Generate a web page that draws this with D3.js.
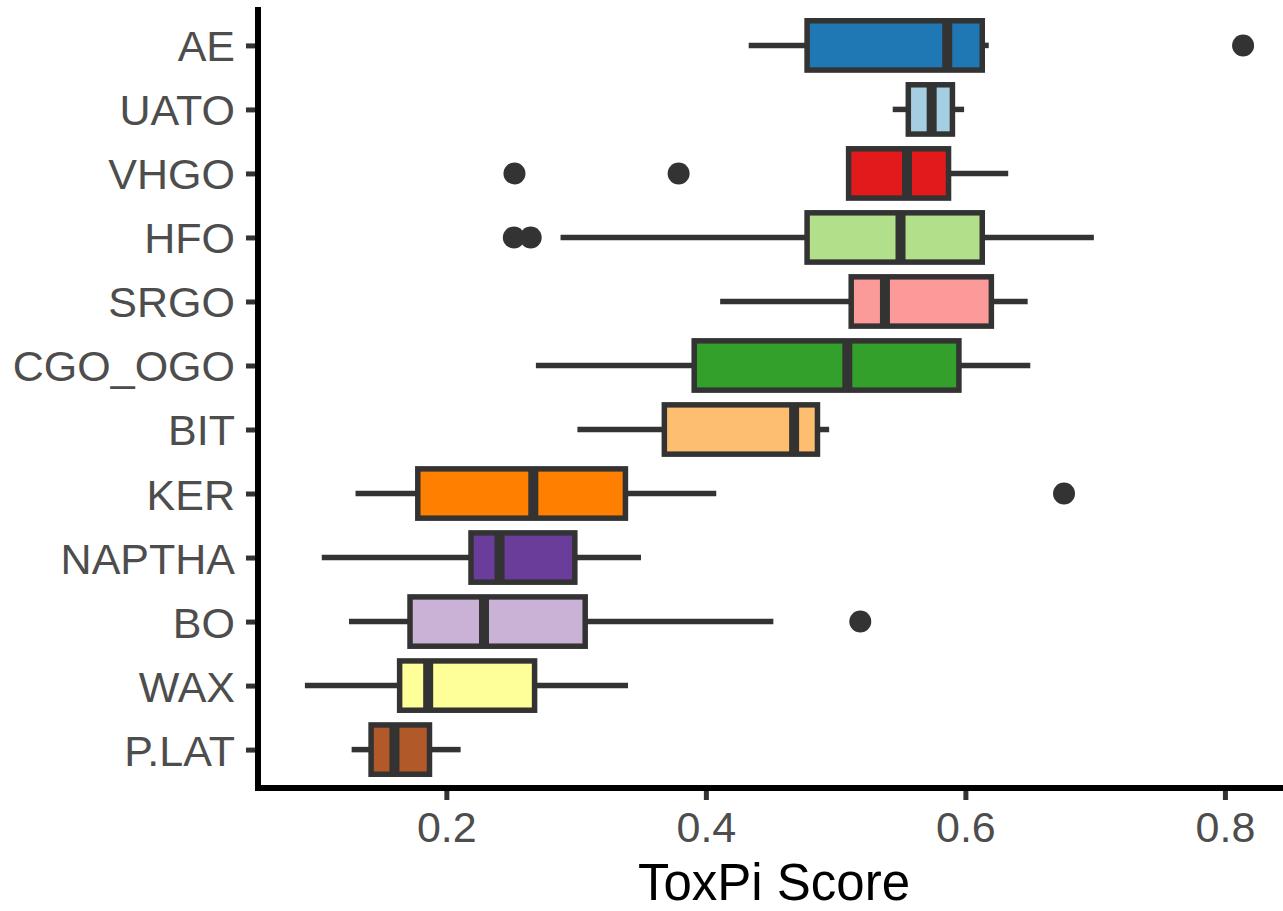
<!DOCTYPE html>
<html>
<head>
<meta charset="utf-8">
<script src="https://cdn.jsdelivr.net/npm/d3@7"></script>
<style>
	body { margin: 0; background: #fff; }
	text { font-family: "Liberation Sans", Arial, sans-serif; }
</style>
</head>
<body>
<div class="container"></div>
<script>

var categories = ["AE", "UATO", "VHGO", "HFO", "SRGO", "CGO_OGO", "BIT", "KER", "NAPTHA", "BO", "WAX", "P.LAT"];
var fills = ["#1F78B4", "#A6CEE3", "#E31A1C", "#B2DF8A", "#FB9A99", "#33A02C", "#FDBF6F", "#FF7F00", "#6A3D9A", "#CAB2D6", "#FFFF99", "#B15928"];

var whiskerLow  = [0.433, 0.544, 0.510, 0.288, 0.411, 0.269, 0.301, 0.130, 0.104, 0.125, 0.091, 0.127];
var q1          = [0.478, 0.556, 0.510, 0.478, 0.512, 0.391, 0.368, 0.178, 0.219, 0.172, 0.164, 0.142];
var medians     = [0.586, 0.574, 0.555, 0.550, 0.538, 0.509, 0.468, 0.267, 0.241, 0.229, 0.186, 0.160];
var q3          = [0.613, 0.590, 0.587, 0.613, 0.620, 0.595, 0.486, 0.338, 0.299, 0.307, 0.268, 0.187];
var whiskerHigh = [0.618, 0.599, 0.633, 0.699, 0.648, 0.650, 0.495, 0.408, 0.350, 0.452, 0.340, 0.211];
var outliers    = [[0.814], [], [0.2525, 0.379], [0.252, 0.265], [], [], [], [0.676], [], [0.519], [], []];

var xTicks = [0.2, 0.4, 0.6, 0.8];

var W = 1283, H = 911;
var dark = "#333333";

var svg = d3.select(".container").append("svg")
	.attr("width", W)
	.attr("height", H);

// ggplot style 5% expansion of the data range
var allVals = whiskerLow.concat(whiskerHigh, d3.merge(outliers));
var lo = d3.min(allVals), hi = d3.max(allVals), pad = (hi - lo) * 0.05;

var x = d3.scaleLinear().domain([lo - pad, hi + pad]).range([258, 1290]);
var y = d3.scalePoint().domain(categories).range([7, 788]).padding(0.6);

var boxH = y.step() * 0.77;

var rows = categories.map(function(c, i) {
	return {cat: c, fill: fills[i], wl: whiskerLow[i], q1: q1[i], med: medians[i], q3: q3[i], wh: whiskerHigh[i], out: outliers[i]};
});

var g = svg.selectAll("g.box").data(rows).enter().append("g").attr("class", "box");

// whiskers
g.append("line")
	.attr("x1", function(d) { return x(d.wl); })
	.attr("x2", function(d) { return x(d.q1); })
	.attr("y1", function(d) { return y(d.cat); })
	.attr("y2", function(d) { return y(d.cat); })
	.style("stroke", dark).style("stroke-width", 5.5);
g.append("line")
	.attr("x1", function(d) { return x(d.q3); })
	.attr("x2", function(d) { return x(d.wh); })
	.attr("y1", function(d) { return y(d.cat); })
	.attr("y2", function(d) { return y(d.cat); })
	.style("stroke", dark).style("stroke-width", 5.5);

// boxes
g.append("rect")
	.attr("x", function(d) { return x(d.q1); })
	.attr("width", function(d) { return x(d.q3) - x(d.q1); })
	.attr("y", function(d) { return y(d.cat) - boxH / 2; })
	.attr("height", boxH)
	.style("fill", function(d) { return d.fill; })
	.style("stroke", dark).style("stroke-width", 5.5);

// medians
g.append("line")
	.attr("x1", function(d) { return x(d.med); })
	.attr("x2", function(d) { return x(d.med); })
	.attr("y1", function(d) { return y(d.cat) - boxH / 2; })
	.attr("y2", function(d) { return y(d.cat) + boxH / 2; })
	.style("stroke", dark).style("stroke-width", 10);

// outliers
g.selectAll("circle")
	.data(function(d) { return d.out.map(function(v) { return {cat: d.cat, v: v}; }); })
	.enter().append("circle")
	.attr("cx", function(d) { return x(d.v); })
	.attr("cy", function(d) { return y(d.cat); })
	.attr("r", 11)
	.style("fill", dark);

// axes
var xAxis = svg.append("g")
	.attr("transform", "translate(0,788)")
	.call(d3.axisBottom(x).tickValues(xTicks).tickSize(12).tickPadding(10).tickFormat(d3.format(".1f")));
var yAxis = svg.append("g")
	.attr("transform", "translate(258,0)")
	.call(d3.axisLeft(y).tickSize(12).tickPadding(11));

[xAxis, yAxis].forEach(function(a) {
	a.select(".domain").remove();
	a.selectAll(".tick line").style("stroke", dark).style("stroke-width", 5);
	a.selectAll(".tick text").style("fill", "#4D4D4D").style("font-size", "43px");
});
xAxis.selectAll(".tick text").attr("dy", "0.75em");
yAxis.selectAll(".tick text").attr("dy", "0.36em");

svg.append("line")
	.attr("x1", 258).attr("x2", 258).attr("y1", 7).attr("y2", 791)
	.style("stroke", "#000").style("stroke-width", 6);
svg.append("line")
	.attr("x1", 255).attr("x2", W).attr("y1", 788).attr("y2", 788)
	.style("stroke", "#000").style("stroke-width", 6);

svg.append("text")
	.attr("x", 774)
	.attr("y", 900)
	.attr("text-anchor", "middle")
	.style("font-size", "51px")
	.style("fill", "#000")
	.text("ToxPi Score");

</script>
</body>
</html>
